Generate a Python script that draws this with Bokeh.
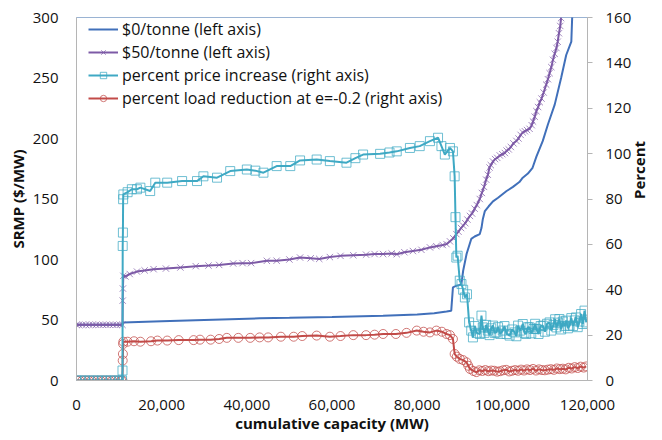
import math
from bokeh.plotting import figure
from bokeh.models import Range1d, LinearAxis, Legend, LegendItem, FixedTicker, NumeralTickFormatter
from bokeh.embed import file_html
from bokeh.resources import INLINE

# $0/tonne (left axis)
x_p0 = [0, 10800, 10900, 20000, 30000, 43000, 50000, 60000, 72000, 80000, 84000, 86900, 88000, 88400,
        89000, 90000, 90400, 90800, 91600, 92700, 93500, 94700, 95100, 95400, 95900, 96800, 97800, 99000,
        101000, 102500, 104000, 104800, 106000, 107100, 108000, 109500, 110700, 112300, 113800, 115000,
        116200, 116400, 116700]
y_p0 = [46, 46, 48, 49, 50, 51.4, 51.8, 52.5, 53.5, 54.5, 55.5, 57, 57.7, 77,
        78, 79, 80, 90.7, 104.5, 117, 119, 121, 126, 133, 140, 144, 148, 151,
        156.6, 160, 164, 167.6, 171, 175.8, 185, 198, 211.6, 228, 250, 269,
        280, 300, 320]

# $50/tonne (left axis)
x_p50 = [0, 600, 1400, 2200, 3000, 3800, 4600, 5400, 6200, 7000, 7800, 8600, 9400, 10200, 10800, 10850,
         10900, 11000, 11500, 12500, 14200, 16000, 18100, 21000, 24400, 28000, 31000, 33500, 36800, 39000,
         41000, 44700, 47000, 50000, 52500, 55000, 57000, 59500, 62000, 65000, 68000, 70000, 72000, 74000,
         75200, 77000, 79000, 81000, 83000, 84500, 86000, 86900, 87700, 88500, 89200, 89700, 90300, 90800,
         91300, 91800, 92400, 92900, 93500, 94000, 94700, 95200, 95700, 96200, 96600, 97000, 97300, 97800,
         98300, 98800, 99400, 100000, 100600, 101000, 101500, 102000, 102600, 103300, 103800, 104300,
         104800, 105300, 105800, 106400, 106900, 107200, 107600, 108000, 108400, 108800, 109200, 109700,
         110300, 110700, 111100, 111500, 111900, 112300, 112700, 113000, 113300, 113600, 113800]
y_p50 = [46, 46, 46, 46, 46, 46, 46, 46, 46, 46, 46, 46, 46, 46, 46, 66,
         76, 86.5, 86, 88, 90, 91, 92, 92.5, 93.4, 94.5, 95, 95.5, 96.7, 97,
         97, 98.9, 99, 100, 101.6, 101, 100.5, 102, 103, 103.5, 104, 104.5, 104.5, 105,
         104.4, 106, 107, 108, 110, 111, 112, 112.7, 115, 117.5, 121, 123, 126, 128,
         130, 133, 136, 138, 142, 145, 150, 155, 160, 166, 170, 176, 178, 181,
         183, 184, 186, 187, 188, 190, 191, 193, 196, 198, 200, 203,
         205, 206, 207, 208, 211, 214, 218, 222.6, 226, 230, 233, 238,
         244.5, 249, 254, 259, 265, 270, 274.8, 280, 287, 293, 299.5]

# percent price increase (right axis)
x_pi = [0, 1000, 2000, 3000, 4000, 5000, 6000, 7000, 8000, 9000, 10000, 10700,
        10800, 10850, 10900, 10950, 11000, 12000, 13000, 14200, 15000, 17300, 18500, 21300, 24800, 28300,
        29800, 33000, 36100, 40000, 42000, 43900, 47000, 50200, 52500, 56400, 59500, 63400, 65500, 67300,
        71300, 73500, 75200, 78300, 80600, 83000, 84900, 85700, 86500, 87700, 88400, 88800, 89000, 89200,
        89500, 90000, 90400, 90800, 91200, 91700, 92200, 92700, 93100, 93500, 94000, 94700, 95100, 95400,
        95800, 96200, 96600, 97000, 97400, 97800, 98200, 98600, 99000, 99500, 100100, 100500, 101000,
        101700, 102300, 102900, 103300, 103700, 104200, 104800, 105200, 105600, 106000, 106400, 106800,
        107300, 107700, 108000, 108500, 109000, 109500, 110000, 110500, 111100, 111500, 112000, 112400,
        112700, 113100, 113400, 113800, 114200, 114600, 115000, 115400, 115800, 116200, 116600, 117000,
        117300, 117700, 118100, 118500, 118900, 119300, 119700]
y_pi = [0, 0, 0, 0, 0, 0, 0, 0, 0, 0, 0, 0,
        4.4, 59.3, 65.2, 79.9, 82, 83, 84.3, 84.3, 85, 83.5, 87.2, 87.2, 87.9, 87.9,
        90, 89.4, 92.3, 93, 92.5, 91.6, 94.5, 94.5, 97, 97.4, 96.7, 96, 98, 99.6,
        99.9, 100.5, 101, 102.5, 103.3, 105.5, 107, 103.3, 99.6, 102.5, 101, 90, 72, 54.2,
        55, 44, 42.5, 40, 36.6, 38, 25.6, 22, 19, 24, 21, 20.5, 28.6, 23.4,
        21, 24.5, 22, 20, 23, 24.2, 21, 21.2, 23.5, 20.5, 22, 24, 20.5,
        19.8, 22.5, 21.2, 19.5, 24.2, 22, 24.9, 21, 20.5, 23.5, 23.4, 20.8,
        22.7, 25, 22.7, 20.5, 24, 24.2, 21.5, 25, 25.6, 22, 24.5, 27,
        23.4, 25.5, 27.1, 22.5, 26, 24, 26.4, 23, 24.2, 27.5, 24, 26.5,
        27.8, 23.5, 26, 29.3, 24.9, 30.8, 25.6]

# percent load reduction at e=-0.2 (right axis)
x_lr = [0, 700, 1400, 2100, 2800, 3500, 4200, 4900, 5600, 6300, 7000, 7700, 8400, 9100, 9800, 10500,
        10800, 10850, 10900, 10950, 11000, 12000, 13500, 15000, 17500, 19000, 21300, 24000, 27500, 29000,
        31500, 33500, 35300, 38000, 40800, 43000, 45000, 48000, 51000, 53000, 56400, 59500, 62000, 65000,
        68000, 70000, 72000, 75000, 77500, 79900, 81500, 83000, 84500, 85800, 86900, 87700, 88400, 88800,
        89300, 90000, 90800, 91600, 92000, 92400, 93200, 93900, 94600, 95300, 96000, 96700, 97400, 98100,
        98800, 99500, 100200, 100900, 101600, 102300, 103000, 103700, 104400, 105100, 105800, 106500,
        107200, 107900, 108600, 109300, 110000, 110700, 111400, 112100, 112800, 113500, 114200, 114900,
        115600, 116300, 117000, 117700, 118400, 119100, 119700]
y_lr = [0, 0, 0, 0, 0, 0, 0, 0, 0, 0, 0, 0, 0, 0, 0, 0,
        0, 8.8, 11.7, 16.1, 17.1, 17.1, 17.3, 17.1, 17.3, 17.6, 17.6, 17.8, 17.8, 18,
        18, 18.3, 18.8, 18.8, 18.8, 19, 19, 19.3, 19.3, 19.6, 19.8, 19.3, 19.6, 20,
        20, 20.2, 20.5, 20.5, 21, 22, 21.5, 21.2, 22, 21.5, 20.5, 20, 18.3, 11.7,
        10.5, 9.5, 9, 8, 6.5, 5.1, 4.2, 3.7, 4.5, 4.2, 4.6, 4.1, 4.4, 4.3,
        3.9, 4.1, 4.5, 4.7, 4.0, 4.3, 4.6, 4.3, 4.8, 4.4, 4.9, 4.6,
        5.1, 4.4, 4.9, 4.6, 4.5, 4.8, 5.0, 4.7, 5.3, 5.0, 5.2, 4.9,
        5.6, 5.3, 5.9, 5.5, 6.1, 5.7, 6.2]

x_ticks = [0, 20000, 40000, 60000, 80000, 100000, 120000]
left_ticks = [0, 50, 100, 150, 200, 250, 300]
right_ticks = [0, 20, 40, 60, 80, 100, 120, 140, 160]

legend_labels = ["$0/tonne (left axis)", "$50/tonne (left axis)",
                 "percent price increase (right axis)",
                 "percent load reduction at e=-0.2 (right axis)"]

C_BLUE = "#4170BA"
C_PURPLE = "#7D5AA6"
C_TEAL = "#3FA9C4"
C_RED = "#C24B48"
FONT = "Open Sans"

p = figure(width=662, height=440, output_backend="svg", toolbar_location=None,
           x_range=Range1d(0, 120000), y_range=Range1d(0, 300),
           min_border_left=76, min_border_right=74, min_border_top=17, min_border_bottom=60)
p.extra_y_ranges = {"right": Range1d(0, 160)}
p.grid.visible = False
p.outline_line_color = "#9AB3D3"
p.outline_line_width = 1
p.background_fill_color = "white"
p.border_fill_color = "white"

r_blue = p.line(x_p0, y_p0, line_color=C_BLUE, line_width=2)
r_purple_l = p.line(x_p50, y_p50, line_color=C_PURPLE, line_width=2)
r_purple_m = p.scatter(x_p50, y_p50, marker="x", size=9, line_color=C_PURPLE, line_alpha=0.7, line_width=1)
r_red_l = p.line(x_lr, y_lr, line_color=C_RED, line_width=2, y_range_name="right")
r_red_m = p.scatter(x_lr, y_lr, marker="circle", size=9, line_color=C_RED, fill_alpha=0,
                    line_alpha=0.75, line_width=1, y_range_name="right")
r_teal_l = p.line(x_pi, y_pi, line_color=C_TEAL, line_width=2, y_range_name="right")
r_teal_m = p.scatter(x_pi, y_pi, marker="square", size=9, line_color=C_TEAL, fill_alpha=0,
                     line_alpha=0.75, line_width=1, y_range_name="right")

# axes styling
xa = p.xaxis[0]
xa.ticker = FixedTicker(ticks=x_ticks)
xa.formatter = NumeralTickFormatter(format="0,0")
xa.axis_label = "cumulative capacity (MW)"
ya = p.yaxis[0]
ya.ticker = FixedTicker(ticks=left_ticks)
ya.axis_label = "SRMP ($/MW)"

ra = LinearAxis(y_range_name="right", axis_label="Percent")
ra.ticker = FixedTicker(ticks=right_ticks)
p.add_layout(ra, "right")

for ax in (xa, ya, ra):
    ax.axis_line_color = "#B5B5B5"
    ax.axis_line_width = 1
    ax.major_tick_in = 0
    ax.minor_tick_line_color = None
    ax.major_label_text_font = FONT
    ax.major_label_text_font_size = "15px"
    ax.major_label_text_color = "#111111"
    ax.axis_label_text_font = FONT
    ax.axis_label_text_font_size = "15px"
    ax.axis_label_text_font_style = "bold"
    ax.axis_label_text_color = "#111111"

xa.major_tick_out = 0
xa.major_tick_line_color = None
xa.major_label_standoff = 19
xa.axis_label_standoff = 0
ya.major_tick_out = 0
ya.major_tick_line_color = None
ya.major_label_standoff = 18
ya.axis_label_standoff = 2
ra.major_tick_out = 5
ra.major_tick_line_color = "#B5B5B5"
ra.major_label_standoff = 13
ra.axis_label_standoff = 5
try:
    ra.axis_label_orientation = math.pi / 2
except Exception:
    pass

legend = Legend(items=[
    LegendItem(label=legend_labels[0], renderers=[r_blue]),
    LegendItem(label=legend_labels[1], renderers=[r_purple_l, r_purple_m]),
    LegendItem(label=legend_labels[2], renderers=[r_teal_l, r_teal_m]),
    LegendItem(label=legend_labels[3], renderers=[r_red_l, r_red_m]),
], location=(12, 271))
legend.margin = 0
legend.padding = 0
legend.spacing = 1
legend.glyph_width = 30
legend.glyph_height = 16
legend.label_height = 16
legend.label_standoff = 4
legend.label_text_font = FONT
legend.label_text_font_size = "16px"
legend.label_text_color = "#111111"
legend.background_fill_alpha = 0
legend.border_line_alpha = 0
p.add_layout(legend, "center")

open("out.html", "w").write(file_html(p, INLINE))
